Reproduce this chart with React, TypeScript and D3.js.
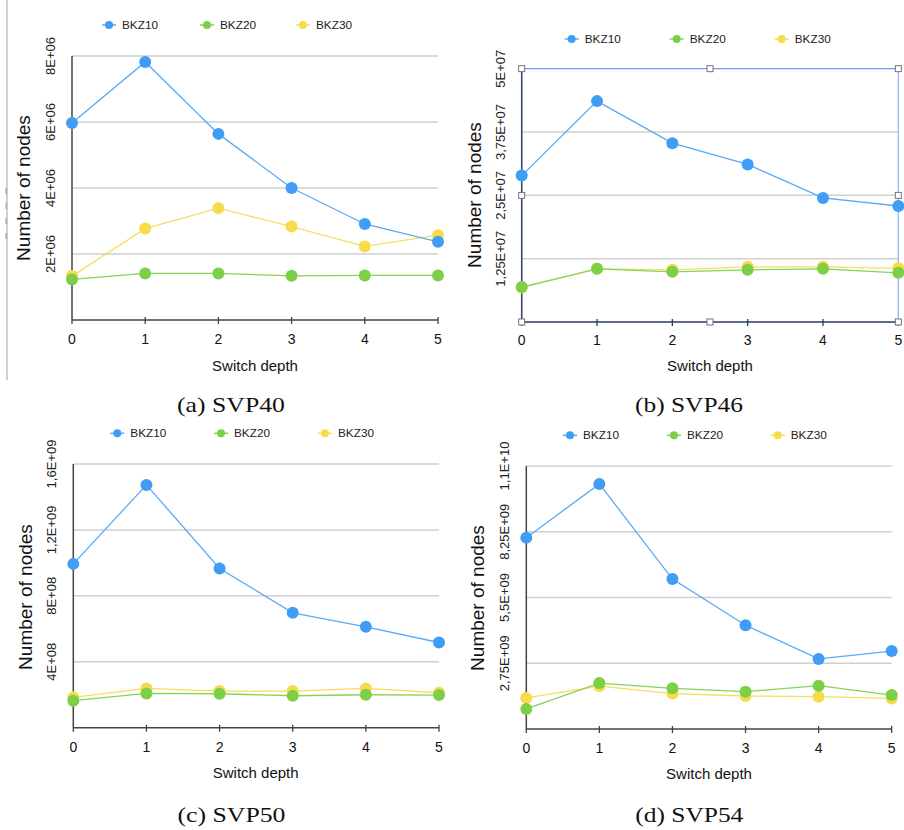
import React from "react";
import * as d3 from "d3";

const depths = [0, 1, 2, 3, 4, 5];
const seriesNames = ["BKZ10", "BKZ20", "BKZ30"];

// SVP40
const svp40_bkz10 = [5.97e6, 7.82e6, 5.64e6, 4.0e6, 2.91e6, 2.37e6];
const svp40_bkz20 = [1.23e6, 1.41e6, 1.41e6, 1.34e6, 1.35e6, 1.35e6];
const svp40_bkz30 = [1.33e6, 2.77e6, 3.39e6, 2.83e6, 2.23e6, 2.57e6];
const svp40_ticks = [2e6, 4e6, 6e6, 8e6];
const svp40_tickLabels = ["2E+06", "4E+06", "6E+06", "8E+06"];

// SVP46
const svp46_bkz10 = [2.89e7, 4.36e7, 3.53e7, 3.11e7, 2.45e7, 2.29e7];
const svp46_bkz20 = [0.69e7, 1.05e7, 0.99e7, 1.03e7, 1.05e7, 0.97e7];
const svp46_bkz30 = [0.68e7, 1.05e7, 1.03e7, 1.09e7, 1.09e7, 1.06e7];
const svp46_ticks = [1.25e7, 2.5e7, 3.75e7, 5e7];
const svp46_tickLabels = ["1,25E+07", "2,5E+07", "3,75E+07", "5E+07"];

// SVP50
const svp50_bkz10 = [9.94e8, 1.473e9, 9.66e8, 6.97e8, 6.12e8, 5.17e8];
const svp50_bkz20 = [1.64e8, 2.08e8, 2.06e8, 1.94e8, 2.0e8, 1.98e8];
const svp50_bkz30 = [1.84e8, 2.38e8, 2.22e8, 2.22e8, 2.38e8, 2.12e8];
const svp50_ticks = [4e8, 8e8, 1.2e9, 1.6e9];
const svp50_tickLabels = ["4E+08", "8E+08", "1,2E+09", "1,6E+09"];

// SVP54
const svp54_bkz10 = [8.0e9, 1.025e10, 6.27e9, 4.34e9, 2.93e9, 3.26e9];
const svp54_bkz20 = [0.84e9, 1.92e9, 1.7e9, 1.56e9, 1.81e9, 1.42e9];
const svp54_bkz30 = [1.3e9, 1.79e9, 1.48e9, 1.38e9, 1.35e9, 1.28e9];
const svp54_ticks = [2.75e9, 5.5e9, 8.25e9, 1.1e10];
const svp54_tickLabels = ["2,75E+09", "5,5E+09", "8,25E+09", "1,1E+10"];

const captions = ["(a) SVP40", "(b) SVP46", "(c) SVP50", "(d) SVP54"];

const COLORS = { BKZ10: "#3f9df6", BKZ20: "#7ccf47", BKZ30: "#f6dc4a" };
const LINE_COLORS = { BKZ10: "#5aaaf4", BKZ20: "#86d35a", BKZ30: "#f4de5e" };
const SANS = "'Liberation Sans', Arial, Helvetica, sans-serif";

type Layout = {
  left: number; right: number; top: number; bottom: number;
  tickX: number; titleX: number; titleY: number;
  legendY: number; legendX: number[];
  xTickY: number; xTitleX: number; xTitleY: number;
  capX: number; capY: number; selected?: boolean;
};

const layouts: Layout[] = [
  { left: 72, right: 438, top: 56, bottom: 320, tickX: 50, titleX: 23, titleY: 188,
    legendY: 25, legendX: [109, 207, 303], xTickY: 339, xTitleX: 255, xTitleY: 365, capX: 231, capY: 405 },
  { left: 521.7, right: 898.3, top: 68.7, bottom: 322, tickX: 500, titleX: 474, titleY: 195,
    legendY: 39, legendX: [571.7, 676.7, 781.7], xTickY: 340, xTitleX: 710, xTitleY: 365, capX: 689, capY: 405, selected: true },
  { left: 73.3, right: 439, top: 464, bottom: 727.7, tickX: 51.7, titleX: 25.7, titleY: 597,
    legendY: 433.3, legendX: [117.3, 221, 325], xTickY: 746.7, xTitleX: 255.7, xTitleY: 772.7, capX: 231.5, capY: 815 },
  { left: 526.3, right: 891.7, top: 466, bottom: 729, tickX: 504.3, titleX: 477.3, titleY: 598,
    legendY: 435.3, legendX: [570, 674, 777.7], xTickY: 747.7, xTitleX: 709, xTitleY: 773.3, capX: 689.3, capY: 815 },
];

const panelData = [
  { series: [svp40_bkz10, svp40_bkz20, svp40_bkz30], ticks: svp40_ticks, labels: svp40_tickLabels },
  { series: [svp46_bkz10, svp46_bkz20, svp46_bkz30], ticks: svp46_ticks, labels: svp46_tickLabels },
  { series: [svp50_bkz10, svp50_bkz20, svp50_bkz30], ticks: svp50_ticks, labels: svp50_tickLabels },
  { series: [svp54_bkz10, svp54_bkz20, svp54_bkz30], ticks: svp54_ticks, labels: svp54_tickLabels },
];

function Panel({ idx }: { idx: number }) {
  const L = layouts[idx];
  const P = panelData[idx];
  const ymax = P.ticks[P.ticks.length - 1];
  const x = d3.scaleLinear().domain([0, 5]).range([L.left, L.right]);
  const y = d3.scaleLinear().domain([0, ymax]).range([L.bottom, L.top]);
  const line = d3.line<number>().x((_, i) => x(depths[i])).y((v) => y(v));
  const drawOrder = [2, 1, 0];
  const axisColor = L.selected ? "#2b3a66" : "#444";
  const handles: [number, number][] = L.selected
    ? [
        [L.left, L.top], [(L.left + L.right) / 2, L.top], [L.right, L.top],
        [L.left, (L.top + L.bottom) / 2], [L.right, (L.top + L.bottom) / 2],
        [L.left, L.bottom], [(L.left + L.right) / 2, L.bottom], [L.right, L.bottom],
      ]
    : [];
  return (
    <g>
      {/* legend */}
      {seriesNames.map((name, i) => (
        <g key={name}>
          <line x1={L.legendX[i] - 7} x2={L.legendX[i] + 7} y1={L.legendY} y2={L.legendY}
            stroke={LINE_COLORS[name]} strokeWidth={1.5} />
          <circle cx={L.legendX[i]} cy={L.legendY} r={4} fill={COLORS[name]} />
          <text x={L.legendX[i] + 13} y={L.legendY} dominantBaseline="central"
            fontFamily={SANS} fontSize={11.8} fill="#222">{name}</text>
        </g>
      ))}
      {/* gridlines */}
      {P.ticks.map((t, i) =>
        L.selected && i === P.ticks.length - 1 ? null : (
          <line key={t} x1={L.left} x2={L.right} y1={y(t)} y2={y(t)} stroke="#cfcfcf" strokeWidth={1.5} />
        )
      )}
      {/* y tick labels */}
      {P.ticks.map((t, i) => (
        <text key={"l" + t} transform={`translate(${L.tickX},${y(t)}) rotate(-90)`}
          textAnchor="middle" dominantBaseline="central" fontFamily={SANS} fontSize={13} fill="#222">
          {P.labels[i]}
        </text>
      ))}
      {/* y title */}
      <text transform={`translate(${L.titleX},${L.titleY}) rotate(-90)`} textAnchor="middle"
        dominantBaseline="central" fontFamily={SANS} fontSize={19} fill="#111">Number of nodes</text>
      {/* axes */}
      <line x1={L.left} x2={L.left} y1={L.top} y2={L.bottom} stroke={axisColor} strokeWidth={1.5} />
      <line x1={L.left} x2={L.right} y1={L.bottom} y2={L.bottom} stroke={axisColor} strokeWidth={1.5} />
      {depths.map((dd) => (
        <g key={"xt" + dd}>
          <line x1={x(dd)} x2={x(dd)} y1={dd === 0 ? L.bottom : L.bottom - 3} y2={L.bottom + 4}
            stroke={axisColor} strokeWidth={1.3} />
          <text x={x(dd)} y={L.xTickY} textAnchor="middle" dominantBaseline="central"
            fontFamily={SANS} fontSize={14} fill="#111">{dd}</text>
        </g>
      ))}
      <text x={L.xTitleX} y={L.xTitleY} textAnchor="middle" dominantBaseline="central"
        fontFamily={SANS} fontSize={15} fill="#111">Switch depth</text>
      {/* selection box */}
      {L.selected && (
        <g>
          <line x1={L.left} x2={L.right} y1={L.top} y2={L.top} stroke="#6f98ee" strokeWidth={1.2} />
          <line x1={L.right} x2={L.right} y1={L.top} y2={L.bottom} stroke="#8fb0f3" strokeWidth={1.2} />
          <line x1={L.left} x2={L.left} y1={L.top} y2={L.bottom} stroke="#3a55a8" strokeWidth={0.8} opacity={0.5} />
        </g>
      )}
      {/* series */}
      {drawOrder.map((si) => {
        const name = seriesNames[si];
        const vals = P.series[si];
        return (
          <g key={name}>
            <path d={line(vals) || ""} fill="none" stroke={LINE_COLORS[name]} strokeWidth={1.3} />
            {vals.map((v, i) => (
              <circle key={i} cx={x(depths[i])} cy={y(v)} r={6} fill={COLORS[name]} />
            ))}
          </g>
        );
      })}
      {handles.map(([hx, hy], i) => (
        <rect key={"h" + i} x={hx - 3} y={hy - 3} width={6} height={6} fill="#fff" stroke="#666" strokeWidth={0.9} />
      ))}
      {/* caption */}
      <text x={L.capX} y={L.capY} textAnchor="middle" dominantBaseline="central"
        fontFamily="'Liberation Serif', 'DejaVu Serif', serif" fontSize={21} fill="#111"
        textLength={108} lengthAdjust="spacingAndGlyphs">{captions[idx]}</text>
    </g>
  );
}

export default function App() {
  return (
    <svg width={904} height={830} viewBox="0 0 904 830"
      style={{ position: "absolute", left: 0, top: 0, display: "block", background: "#fff" }}>
      <rect x={0} y={0} width={904} height={830} fill="#fff" />
      {/* page artifact at left edge of panel (a) */}
      <line x1={7} x2={7} y1={0} y2={380} stroke="#c4c4c4" strokeWidth={1.6} />
      <line x1={6} x2={6} y1={188} y2={246} stroke="#3b5bd6" strokeWidth={1} strokeDasharray="6 9" opacity={0.6} />
      {[0, 1, 2, 3].map((i) => (
        <Panel key={i} idx={i} />
      ))}
    </svg>
  );
}
